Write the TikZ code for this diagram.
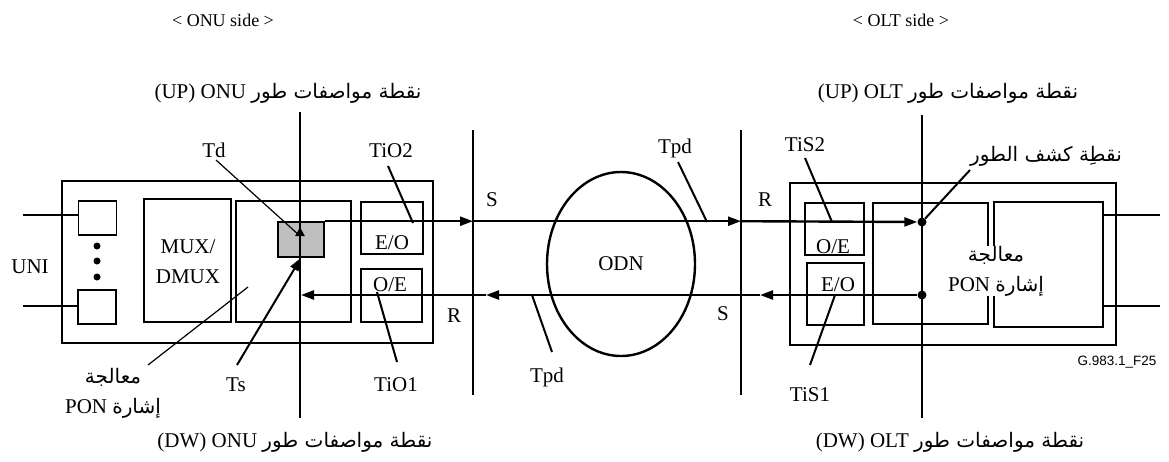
\documentclass[tikz,border=0pt]{standalone}
\usepackage{fontspec}
\setmainfont{Liberation Serif}
\newfontfamily\arabicfont[Script=Arabic]{DejaVu Sans}
\newfontfamily\figfont{Liberation Sans}
\TeXXeTstate=1
\usetikzlibrary{arrows.meta,shapes.geometric}
\newcommand{\artxt}[1]{{\arabicfont\fontsize{20}{24}\selectfont\beginR #1\endR}}

\begin{document}
\begin{tikzpicture}[x=1pt, y=-1pt, font=\fontsize{21}{30}\selectfont,
  box/.style={draw, line width=1.6pt, inner sep=0pt},
  main/.style={line width=2.4pt},
  arr/.style={main, -{Triangle[length=13pt,width=9pt]}},
  lead/.style={line width=2pt},
  thinlead/.style={line width=1.2pt},
  lbl/.style={inner sep=1pt, align=center},
  head/.style={inner sep=1pt, font=\fontsize{18}{22}\selectfont},
  blob/.style={circle, fill, inner sep=0pt, minimum size=9pt},
  odnshape/.style={draw, ellipse, line width=2.4pt, minimum width=148pt, minimum height=184pt}
]
\useasboundingbox (0,0) rectangle (1169,461);

% headings
\node[head] (onuside) at (223,20) {< ONU side >};
\node[head] (oltside) at (901,20) {< OLT side >};
\node[lbl] (onuup) at (288,93) {(UP) ONU \artxt{نقطة مواصفات طور}};
\node[lbl] (oltup) at (948,93) {(UP) OLT \artxt{نقطة مواصفات طور}};
\node[lbl] (onudw) at (295,442) {(DW) ONU \artxt{نقطة مواصفات طور}};
\node[lbl] (oltdw) at (950,442) {(DW) OLT \artxt{نقطة مواصفات طور}};

% ONU side
\node[box, minimum width=371pt, minimum height=162pt] (onu) at (247.5,262) {};
\node[box, minimum width=38pt, minimum height=34pt] (uni1) at (97.5,218) {};
\node[box, minimum width=38pt, minimum height=34pt] (uni2) at (97,307) {};
\node[box, minimum width=87pt, minimum height=123pt] (mux) at (187.5,260.5) {};
\node[box, minimum width=115pt, minimum height=121pt] (ponu) at (293.5,261.5) {};
\node[box, fill=black!25, minimum width=46pt, minimum height=35pt] (grey) at (301,239.5) {};
\node[box, minimum width=62pt, minimum height=52pt] (eoonu) at (392,228) {};
\node[box, minimum width=61pt, minimum height=53pt] (oeonu) at (391.5,295.5) {};
\node[lbl] at (188,262) {MUX/\\DMUX};
\node[lbl] (uni) at (30,267) {UNI};
\node[lbl] at (392,243) {E/O};
\node[lbl] at (390,285) {O/E};
\node[blob, minimum size=7pt] (d1) at (97,246) {};
\node[blob, minimum size=7pt] (d2) at (97,261) {};
\node[blob, minimum size=7pt] (d3) at (97,277) {};
\coordinate (unia) at (23,215);
\coordinate (unib) at (23,306);
\draw[main] (unia) -- (unia -| uni1.west);
\draw[main] (unib) -- (unib -| uni2.west);

% OLT side
\node[box, minimum width=326pt, minimum height=162pt] (olt) at (953,264) {};
\node[box, minimum width=59pt, minimum height=52pt] (oeolt) at (834.5,229) {};
\node[box, minimum width=57pt, minimum height=62pt] (eoolt) at (835.5,294) {};
\node[box, minimum width=115pt, minimum height=121pt] (polt) at (930.5,263.5) {};
\node[box, minimum width=109pt, minimum height=125pt] (sigolt) at (1048.5,264.5) {};
\node[lbl] at (833,247) {O/E};
\node[lbl] at (838,285) {E/O};
\coordinate (olta) at (1160,215);
\coordinate (oltb) at (1160,306);
\draw[main] (sigolt.east |- olta) -- (olta);
\draw[main] (sigolt.east |- oltb) -- (oltb);
\node[lbl, fill=white, inner sep=0pt] (sigtxt) at (996,271) {\artxt{معالجة}\\PON \artxt{إشارة}};

% reference lines
\coordinate (onutop) at (300,112);
\coordinate (onubot) at (300,418);
\coordinate (olttop) at (922,115);
\coordinate (oltbot) at (922,418);
\coordinate (srtop) at (473,130);
\coordinate (srbot) at (473,395);
\coordinate (rstop) at (741,130);
\coordinate (rsbot) at (741,395);
\draw[main] (onutop) -- (onubot);
\draw[main] (olttop) -- (oltbot);
\draw[main] (srtop) -- (srbot);
\draw[main] (rstop) -- (rsbot);
\node[odnshape] (odn) at (621,264) {};
\node[lbl] at (odn) {ODN};
\node[lbl] (s1) at (492,200) {S};
\node[lbl] (r1) at (765,200) {R};
\node[lbl] (r2) at (454,316) {R};
\node[lbl] (s2) at (723,314) {S};

% up and down stream
\node[blob] (dotup) at (922,222) {};
\node[blob] (dotdn) at (922,295) {};
\draw[arr] (grey.north east) -- (grey.north east -| srtop);
\draw[arr] (grey.north east -| srtop) -- (grey.north east -| rstop);
\draw[arr] (grey.north east -| rstop) -- (dotup);
\coordinate (dnr) at (760,295);
\coordinate (dns) at (486,295);
\coordinate (dnonu) at (301,295);
\draw[arr] (dotdn) -- (dnr);
\draw[arr] (dnr) -- (dns);
\draw[arr] (dns) -- (dnonu);

% labels and leaders
\node[lbl] (td) at (214,150) {Td};
\node[lbl] (tio2) at (391,151) {TiO2};
\node[lbl] (tpdu) at (675,148) {Tpd};
\node[lbl] (tis2) at (805,145) {TiS2};
\node[lbl] (detect) at (1046,156) {\artxt{نقطِة كشف الطور}};
\node[lbl] (ts) at (236,385) {Ts};
\node[lbl] (tio1) at (396,385) {TiO1};
\node[lbl] (tpdd) at (547,377) {Tpd};
\node[lbl] (tis1) at (810,395) {TiS1};
\node[lbl] (sigonu) at (113,393) {\artxt{معالجة}\\PON \artxt{إشارة}};
\node[lbl, font=\figfont\fontsize{13.5}{16}\selectfont] (figno) at (1117,362) {G.983.1\_F25};

\coordinate (tdend) at (300,236);
\coordinate (tdtip) at (300,227);
\draw[thinlead] (216,160) coordinate (tda) -- (tdend);
\draw[main, -{Triangle[length=9pt,width=9pt]}] (tdend) -- (tdtip);
\draw[arr, line width=2pt] (237,365) coordinate (tsa) -- (grey.south);
\draw[lead] (388,166) coordinate (tio2a) -- (413,223) coordinate (tio2b);
\draw[lead] (377,292) coordinate (tio1a) -- (397,362) coordinate (tio1b);
\draw[lead] (678,162) coordinate (tpdua) -- (707,222) coordinate (tpdub);
\draw[lead] (532,295) coordinate (tpdda) -- (552,352) coordinate (tpddb);
\draw[lead] (805,158) coordinate (tis2a) -- (832,222) coordinate (tis2b);
\draw[lead] (835,295) coordinate (tis1a) -- (810,365) coordinate (tis1b);
\draw[lead] (970,170) coordinate (deta) -- (dotup);
\draw[thinlead] (148,365) coordinate (siga) -- (248,287) coordinate (sigb);
\end{tikzpicture}
\end{document}
